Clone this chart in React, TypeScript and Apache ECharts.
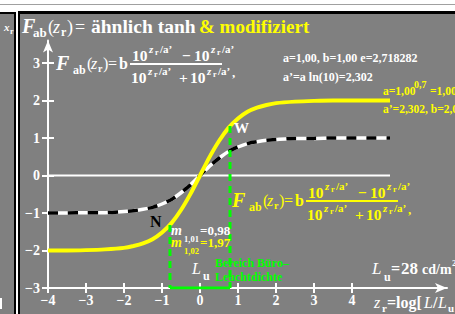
import React, { useEffect, useRef } from 'react';
import * as echarts from 'echarts';

// z_r sample positions
const zValues = [-4, -3.5, -3, -2.5, -2, -1.75, -1.5, -1.25, -1, -0.75, -0.5, -0.25, 0, 0.25, 0.5, 0.75, 1, 1.25, 1.5, 1.75, 2, 2.5, 3, 3.5, 4, 4.5, 5];
// black/white dashed curve (b = 1)
const blackValues = [-1.0, -1.0, -0.99, -0.99, -0.96, -0.94, -0.9, -0.85, -0.76, -0.64, -0.46, -0.25, 0, 0.25, 0.46, 0.64, 0.76, 0.85, 0.9, 0.94, 0.96, 0.99, 0.99, 1.0, 1.0, 1.0, 1.0];
// yellow curve (b = 2)
const yellowValues = [-2.0, -2.0, -1.99, -1.97, -1.93, -1.88, -1.81, -1.7, -1.52, -1.27, -0.92, -0.49, 0, 0.49, 0.92, 1.27, 1.52, 1.7, 1.81, 1.88, 1.93, 1.97, 1.99, 2.0, 2.0, 2.0, 2.0];
// zero line extent
const zeroLine = [[-4, 0], [5, 0]];
// green office luminance range
const greenZ = [-0.79, 0.79];
const greenTop = [-1.32, 1.32];
const axisBottom = -3;
// axis ranges and ticks
const xMin = -4;
const xMax = 6.5;
const yMin = -3;
const yMax = 3.6;
const xTicks = [-4, -3, -2, -1, 0, 1, 2, 3, 4];
const yTicks = [-3, -2, -1, 0, 1, 2, 3];

const FONT = '"Liberation Serif", "Times New Roman", serif';
const GREY = '#808080';
const YEL = '#ffff00';
const GRN = '#00ff00';

function T(text: string, x: number, base: number, size: number, fill: string, italic = false, weight = 'bold') {
  return {
    type: 'text',
    x,
    y: base - 0.34 * size,
    silent: true,
    z: 100,
    style: {
      text,
      fill,
      fontSize: size,
      fontFamily: FONT,
      fontWeight: weight,
      fontStyle: italic ? 'italic' : 'normal',
      align: 'left',
      verticalAlign: 'middle',
    },
  };
}

function formula(x0: number, barY: number, c: string) {
  const els: any[] = [];
  els.push(T('F', x0, barY + 6, 20, c, true));
  els.push(T('ab', x0 + 17, barY + 10, 12, c));
  els.push(T('(', x0 + 31, barY + 5, 16, c, false, 'normal'));
  els.push(T('z', x0 + 35, barY + 5, 16, c, true, 'normal'));
  els.push(T('r', x0 + 42, barY + 8, 10, c));
  els.push(T(')', x0 + 47, barY + 5, 16, c, false, 'normal'));
  els.push(T('=', x0 + 52, barY + 5, 16, c, false, 'normal'));
  els.push(T('b', x0 + 63, barY + 5, 16, c));
  els.push({ type: 'rect', z: 100, silent: true, shape: { x: x0 + 74, y: barY - 1, width: 92, height: 2 }, style: { fill: c } });
  const exp = (x: number, b: number) => {
    els.push(T('z', x, b, 11, c, true));
    els.push(T('r', x + 6, b + 2, 8, c));
    els.push(T('/a’', x + 11, b, 11, c));
  };
  els.push(T('10', x0 + 76, barY - 3, 15.5, c));
  exp(x0 + 93, barY - 11);
  els.push(T('−', x0 + 126, barY - 3, 15.5, c));
  els.push(T('10', x0 + 138, barY - 3, 15.5, c));
  exp(x0 + 155, barY - 11);
  els.push(T('10', x0 + 75, barY + 19, 15.5, c));
  exp(x0 + 92, barY + 11);
  els.push(T('+', x0 + 123, barY + 19, 15.5, c));
  els.push(T('10', x0 + 134, barY + 19, 15.5, c));
  exp(x0 + 151, barY + 11);
  els.push(T(',', x0 + 176, barY + 13, 13, c));
  return els;
}

export default function App() {
  const ref = useRef<HTMLDivElement>(null);
  useEffect(() => {
    if (!ref.current) return;
    const chart = echarts.init(ref.current, null, { renderer: 'svg' });
    const pair = (ys: number[]) => zValues.map((z, i) => [z, ys[i]]);
    const lbl = (v: number) => (v < 0 ? '−' + Math.abs(v) : String(v));
    const graphics: any[] = [
      // left panel texts
      T('x', 4, 31, 11, '#ffffff', true),
      T('r', 10, 34, 8, '#ffffff'),
      { type: 'rect', z: 100, silent: true, shape: { x: 0, y: 298, width: 2, height: 11 }, style: { fill: '#ffffff' } },
      // title
      T('F', 22, 33, 20, '#ffffff', true),
      T('ab', 33, 37, 13, '#ffffff'),
      T('(', 48, 33, 18, '#ffffff', false, 'normal'),
      T('z', 53, 33, 18, '#ffffff', true, 'normal'),
      T('r', 61, 36, 12, '#ffffff'),
      T(')', 67, 33, 18, '#ffffff', false, 'normal'),
      T('=', 75, 33, 18, '#ffffff', false, 'normal'),
      T('ähnlich tanh', 91, 33, 19.5, '#ffffff'),
      T('& modifiziert', 199, 33, 19, YEL),
      ...formula(56, 64, '#ffffff'),
      ...formula(232, 201, YEL),
      T('a=1,00, b=1,00 e=2,718282', 283, 62, 12, '#ffffff'),
      T('a’=a ln(10)=2,302', 283, 81, 12, '#ffffff'),
      T('a=1,00', 383, 95, 11.5, YEL),
      T('0,7', 414, 88, 10, YEL),
      T('=1,00', 430, 95, 11.5, YEL),
      T('a’=2,302, b=2,00', 383, 113, 11.5, YEL),
      T('W', 234, 133, 15, '#ffffff'),
      T('N', 150, 227, 16, '#000000'),
      T('m', 171, 235, 14, '#ffffff', true),
      T('1,01', 184, 242, 8.5, '#ffffff'),
      T('=0,98', 200, 235, 13, '#ffffff'),
      T('m', 171, 247, 14, YEL, true),
      T('1,02', 184, 254, 8.5, YEL),
      T('=1,97', 200, 247, 13, YEL),
      T('L', 192, 274, 16, '#ffffff', true, 'normal'),
      T('u', 203, 280, 12, '#ffffff'),
      T('Bereich Büro–', 215, 267, 12, GRN),
      T('Leuchtdichte', 215, 281, 12, GRN),
      T('L', 372, 274, 17, '#ffffff', true, 'normal'),
      T('u', 384, 281, 12, '#ffffff'),
      T('=', 391, 274, 16, '#ffffff'),
      T('28', 401, 274, 17, '#ffffff'),
      T('cd/m', 422, 274, 14, '#ffffff'),
      T('2', 452, 266, 9, '#ffffff'),
      T('z', 374, 308, 16, '#ffffff', true, 'normal'),
      T('r', 382, 312, 11, '#ffffff'),
      T('=log[', 387, 308, 16, '#ffffff'),
      T('L', 424, 308, 16, '#ffffff', true, 'normal'),
      T('/', 433, 308, 16, '#ffffff'),
      T('L', 438, 308, 16, '#ffffff', true, 'normal'),
      T('u', 448, 312, 11, '#ffffff'),
    ];
    const tickStyle = { color: '#ffffff', width: 2 };
    chart.setOption({
      animation: false,
      backgroundColor: 'transparent',
      grid: { left: 48, top: 40.5, width: 399, height: 247.5, containLabel: false, outerBoundsMode: 'none' },
      xAxis: [
        {
          type: 'value', min: xMin, max: xMax, interval: 1, position: 'bottom',
          axisLine: { show: true, onZero: false, lineStyle: { color: '#fff', width: 2 } },
          axisTick: { show: true, customValues: xTicks, length: 5, inside: false, lineStyle: tickStyle },
          axisLabel: { customValues: xTicks, formatter: lbl, color: '#fff', fontFamily: FONT, fontWeight: 'bold', fontSize: 14, margin: 5 },
          splitLine: { show: false },
        },
        {
          type: 'value', min: xMin, max: xMax, interval: 1, position: 'bottom',
          axisLine: { show: false, onZero: false },
          axisTick: { show: true, customValues: xTicks, length: 5, inside: true, lineStyle: tickStyle },
          axisLabel: { show: false },
          splitLine: { show: false },
        },
      ],
      yAxis: [
        {
          type: 'value', min: yMin, max: yMax, interval: 1, position: 'left',
          axisLine: { show: true, onZero: false, lineStyle: { color: '#fff', width: 2 } },
          axisTick: { show: true, customValues: yTicks, length: 6, inside: false, lineStyle: tickStyle },
          axisLabel: { customValues: yTicks, formatter: lbl, color: '#fff', fontFamily: FONT, fontWeight: 'bold', fontSize: 14, margin: 8 },
          splitLine: { show: false },
        },
        {
          type: 'value', min: yMin, max: yMax, interval: 1, position: 'left',
          axisLine: { show: false, onZero: false },
          axisTick: { show: true, customValues: yTicks, length: 6, inside: true, lineStyle: tickStyle },
          axisLabel: { show: false },
          splitLine: { show: false },
        },
      ],
      series: [
        { type: 'line', data: zeroLine, symbol: 'none', lineStyle: { color: '#fff', width: 2 }, z: 2 },
        { type: 'line', data: pair(blackValues), symbol: 'none', smooth: 0.2, lineStyle: { color: '#fff', width: 3.5 }, z: 3 },
        { type: 'line', data: pair(blackValues), symbol: 'none', smooth: 0.2, lineStyle: { color: '#000', width: 3.5, type: [10, 10] }, z: 4 },
        { type: 'line', data: pair(yellowValues), symbol: 'none', smooth: 0.2, lineStyle: { color: YEL, width: 4 }, z: 5 },
        { type: 'line', data: [[greenZ[0], greenTop[0]], [greenZ[0], axisBottom]], symbol: 'none', lineStyle: { color: GRN, width: 3, type: [7, 5] }, z: 6 },
        { type: 'line', data: [[greenZ[1], greenTop[1]], [greenZ[1], axisBottom]], symbol: 'none', lineStyle: { color: GRN, width: 3, type: [7, 5] }, z: 6 },
        { type: 'line', data: [[greenZ[0], axisBottom], [greenZ[1], axisBottom]], symbol: 'none', lineStyle: { color: GRN, width: 3 }, z: 7 },
      ],
      graphic: graphics,
    });
    // arrow heads at the axis ends, positioned through the chart's own scales
    const yTip = chart.convertToPixel({ gridIndex: 0 }, [xMin, yMax]) as number[];
    const xTip = chart.convertToPixel({ gridIndex: 0 }, [xMax, yMin]) as number[];
    const arrowUp = (p: number[]) => [[p[0], p[1]], [p[0] - 5, p[1] + 12], [p[0], p[1] + 9], [p[0] + 5, p[1] + 12]];
    const arrowRight = (p: number[]) => [[p[0], p[1]], [p[0] - 12, p[1] - 5], [p[0] - 9, p[1]], [p[0] - 12, p[1] + 5]];
    chart.setOption({
      graphic: [
        ...graphics,
        { type: 'polygon', z: 90, silent: true, shape: { points: arrowUp(yTip) }, style: { fill: '#ffffff' } },
        { type: 'polygon', z: 90, silent: true, shape: { points: arrowRight(xTip) }, style: { fill: '#ffffff' } },
      ],
    });
    return () => chart.dispose();
  }, []);

  return (
    <div style={{ position: 'fixed', left: 0, top: 0, width: 455, height: 314, background: '#ffffff', overflow: 'hidden' }}>
      <div style={{ position: 'absolute', left: 0, top: 4, width: 455, height: 1, background: '#a0a0a0' }} />
      <div style={{ position: 'absolute', left: 0, top: 12, width: 16, height: 302, background: '#000' }} />
      <div style={{ position: 'absolute', left: 0, top: 14, width: 14, height: 300, background: GREY }} />
      <div style={{ position: 'absolute', left: 18, top: 11, width: 437, height: 303, background: '#000' }} />
      <div style={{ position: 'absolute', left: 20, top: 14, width: 435, height: 300, background: GREY }} />
      <div ref={ref} style={{ position: 'absolute', left: 0, top: 0, width: 455, height: 314 }} />
    </div>
  );
}
